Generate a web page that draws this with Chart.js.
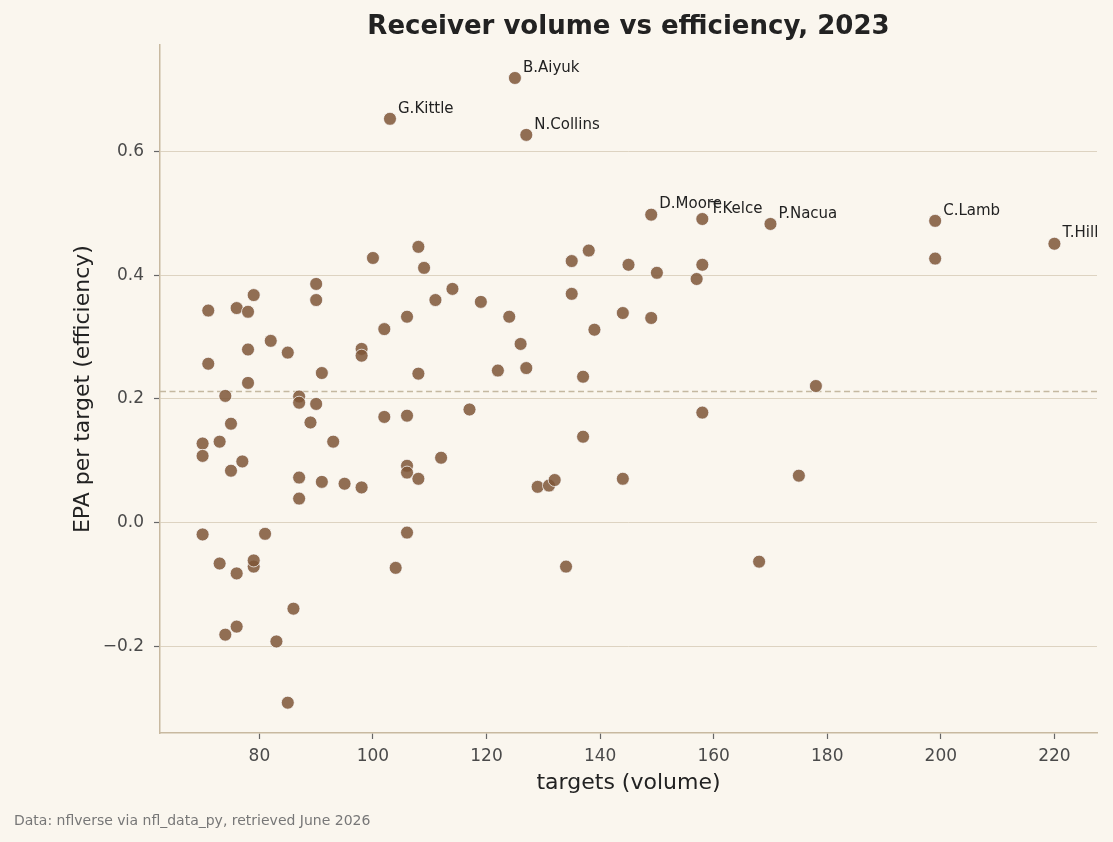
<!DOCTYPE html>
<html>
<head>
<meta charset="utf-8">
<script src="https://cdn.jsdelivr.net/npm/chart.js@4.4.1/dist/chart.umd.min.js"></script>
<style>
    html, body { margin: 0; padding: 0; background: #faf6ee; }
    #wrap { position: relative; width: 1113px; height: 842px; }
    #footer {
        position: absolute; left: 14px; top: 812px;
        font: 14px "DejaVu Sans", sans-serif; color: #777;
    }
</style>
</head>
<body>
<div id="wrap">
    <canvas id="chart"></canvas>
    <div id="footer">Data: nflverse via nfl_data_py, retrieved June 2026</div>
</div>
<script>
// first labelNames.length points carry a name label
const labelNames = ['B.Aiyuk', 'G.Kittle', 'N.Collins', 'D.Moore', 'T.Kelce', 'P.Nacua', 'C.Lamb', 'T.Hill'];

const targets = [
    125, 103, 127, 149, 158, 170, 199, 220,
    71, 71, 70, 70, 70, 73, 74, 75, 75, 77,
    76, 78, 79, 78, 78, 73, 76, 79, 79, 81,
    74, 76, 83, 86, 85, 82, 85, 90, 90, 91,
    87, 87, 90, 89, 93, 87, 91, 87, 95, 98,
    100, 102, 98, 98, 102, 106, 106, 106, 106, 108,
    106, 104, 108, 109, 108, 111, 114, 112, 117, 119,
    124, 122, 126, 127, 129, 131, 132, 134, 135, 138,
    135, 139, 137, 137, 145, 144, 144, 150, 149, 158,
    157, 158, 178, 175, 168, 199
];

const epa = [
    0.719, 0.653, 0.627, 0.498, 0.491, 0.483, 0.488, 0.451,
    0.343, 0.257, 0.128, 0.108, -0.019, 0.131, 0.205, 0.160, 0.084, 0.099,
    0.347, 0.341, 0.368, 0.280, 0.226, -0.066, -0.082, -0.071, -0.061, -0.018,
    -0.181, -0.168, -0.192, -0.139, -0.291, 0.294, 0.275, 0.386, 0.360, 0.242,
    0.204, 0.194, 0.192, 0.162, 0.131, 0.073, 0.066, 0.039, 0.063, 0.057,
    0.428, 0.313, 0.281, 0.270, 0.171, 0.333, 0.173, 0.092, 0.081, 0.071,
    -0.016, -0.073, 0.446, 0.412, 0.241, 0.360, 0.378, 0.105, 0.183, 0.357,
    0.333, 0.246, 0.289, 0.250, 0.058, 0.060, 0.069, -0.071, 0.423, 0.440,
    0.370, 0.312, 0.236, 0.139, 0.417, 0.339, 0.071, 0.404, 0.331, 0.417,
    0.394, 0.178, 0.221, 0.076, -0.063, 0.427
];

const meanEpa = 0.212;

const xTicks = [80, 100, 120, 140, 160, 180, 200, 220];
const yTicks = [-0.2, 0.0, 0.2, 0.4, 0.6];

const points = targets.map((t, i) => ({ x: t, y: epa[i] }));

const FONT = '"DejaVu Sans", sans-serif';

const bgPlugin = {
    id: 'bg',
    beforeDraw(chart) {
        const ctx = chart.ctx;
        ctx.save();
        ctx.fillStyle = '#faf6ee';
        ctx.fillRect(0, 0, chart.width, chart.height);
        ctx.restore();
    }
};

const meanLinePlugin = {
    id: 'meanLine',
    beforeDatasetsDraw(chart) {
        const { ctx, chartArea, scales } = chart;
        const y = scales.y.getPixelForValue(meanEpa);
        ctx.save();
        ctx.strokeStyle = '#c4b8a0';
        ctx.lineWidth = 1.5;
        ctx.setLineDash([6, 3.5]);
        ctx.beginPath();
        ctx.moveTo(chartArea.left, y);
        ctx.lineTo(chartArea.right, y);
        ctx.stroke();
        ctx.restore();
    }
};

const namesPlugin = {
    id: 'names',
    afterDatasetsDraw(chart) {
        const ctx = chart.ctx;
        const meta = chart.getDatasetMeta(0);
        ctx.save();
        ctx.font = '15px ' + FONT;
        ctx.fillStyle = '#222';
        ctx.textBaseline = 'alphabetic';
        ctx.textAlign = 'left';
        labelNames.forEach((name, i) => {
            const el = meta.data[i];
            ctx.fillText(name, el.x + 8, el.y - 6.3);
        });
        ctx.restore();
    }
};

new Chart(document.getElementById('chart'), {
    type: 'scatter',
    data: {
        datasets: [{
            data: points,
            backgroundColor: 'rgba(126, 86, 55, 0.85)',
            borderColor: 'rgba(255, 255, 255, 0.9)',
            borderWidth: 0.8,
            pointRadius: 6.5,
            pointHoverRadius: 6.5
        }]
    },
    options: {
        responsive: true,
        maintainAspectRatio: false,
        animation: false,
        layout: { padding: { top: 0, left: 0, right: 16, bottom: 0 } },
        plugins: {
            legend: { display: false },
            tooltip: { enabled: false },
            title: {
                display: true,
                fullSize: false,
                text: 'Receiver volume vs efficiency, 2023',
                color: '#222',
                font: { family: FONT, size: 26, weight: 'bold', lineHeight: 1.2 },
                padding: { top: 12, bottom: 2 }
            }
        },
        scales: {
            x: {
                type: 'linear',
                min: 62.5,
                max: 227.5,
                afterFit(scale) { scale.height = 109; },
                afterBuildTicks(scale) { scale.ticks = xTicks.map(v => ({ value: v })); },
                grid: {
                    display: true,
                    drawOnChartArea: false,
                    drawTicks: true,
                    tickLength: 6,
                    tickColor: '#666',
                    tickWidth: 1.2
                },
                border: { display: true, color: '#c8b9a0', width: 1.5 },
                ticks: {
                    color: '#4a4a4a',
                    font: { family: FONT, size: 17 },
                    padding: 7,
                    maxRotation: 0
                },
                title: {
                    display: true,
                    text: 'targets (volume)',
                    color: '#222',
                    font: { family: FONT, size: 22 },
                    padding: { top: 0, bottom: 46 }
                }
            },
            y: {
                type: 'linear',
                min: -0.340,
                max: 0.772,
                afterFit(scale) { scale.width = 160; },
                afterBuildTicks(scale) { scale.ticks = yTicks.map(v => ({ value: v })); },
                grid: {
                    display: true,
                    color: '#ddd3c1',
                    lineWidth: 1,
                    drawTicks: true,
                    tickLength: 6,
                    tickColor: '#666',
                    tickWidth: 1.2
                },
                border: { display: true, color: '#c8b9a0', width: 1.5 },
                ticks: {
                    color: '#4a4a4a',
                    font: { family: FONT, size: 17 },
                    padding: 10,
                    callback: v => v.toFixed(1).replace('-', '\u2212')
                },
                title: {
                    display: true,
                    text: 'EPA per target (efficiency)',
                    color: '#222',
                    font: { family: FONT, size: 22 },
                    padding: { top: 70, bottom: 0 }
                }
            }
        }
    },
    plugins: [bgPlugin, meanLinePlugin, namesPlugin]
});
</script>
</body>
</html>
